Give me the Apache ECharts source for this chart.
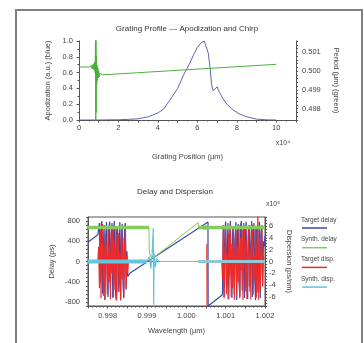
<!DOCTYPE html>
<html>
<head>
<meta charset="utf-8">
<script src="https://cdn.jsdelivr.net/npm/echarts@6/dist/echarts.min.js"></script>
<style>html,body{margin:0;padding:0;background:#fff}#c{width:364px;height:343px}</style>
</head>
<body>
<div id="c"></div>
<script>
// ---------- Top chart: grating profile (x in units of 1e4 um) ----------
const apodX = [0, 1, 2, 2.5, 3, 3.5, 4, 4.3, 4.6, 5.0, 5.3, 5.6, 5.8, 6.0, 6.2, 6.35, 6.45, 6.55, 6.65, 6.72, 6.8, 6.9, 7.0, 7.1, 7.3, 7.5, 7.8, 8.1, 8.5, 9.0, 9.5, 10];
const apodY = [0, 0, 0.003, 0.008, 0.015, 0.04, 0.09, 0.14, 0.25, 0.4, 0.57, 0.71, 0.82, 0.92, 0.98, 1.0, 0.98, 0.85, 0.65, 0.45, 0.37, 0.39, 0.42, 0.36, 0.27, 0.2, 0.13, 0.08, 0.04, 0.012, 0.002, 0];
const periodX = [0, 0.3, 0.5, 0.55, 0.58, 0.61, 0.64, 0.67, 0.7, 0.72, 0.74, 0.76, 0.78, 0.8, 0.82, 0.84, 0.85, 0.86, 0.87, 0.88, 0.9, 0.92, 0.94, 0.96, 0.98, 1.0, 1.03, 1.06, 1.1, 1.2, 10];
const periodY = [0.50022, 0.50022, 0.50021, 0.50025, 0.50018, 0.50028, 0.50015, 0.50032, 0.50012, 0.50036, 0.50008, 0.50040, 0.50004, 0.50048, 0.49990, 0.50200, 0.49700, 0.50200, 0.49780, 0.50080, 0.49930, 0.50030, 0.49950, 0.50015, 0.49965, 0.50000, 0.49970, 0.49988, 0.49978, 0.49980, 0.50036];

// ---------- Bottom chart: delay (ps) and dispersion (x1e5 ps/nm) vs wavelength (um) ----------
const noiseXL = [0.99777, 0.99779, 0.99781, 0.99783, 0.99785, 0.99787, 0.99789, 0.99791, 0.99793, 0.99795, 0.99797, 0.99799, 0.99801, 0.99803, 0.99805, 0.99807, 0.99809, 0.99811, 0.99813, 0.99815, 0.99817, 0.99819, 0.99821, 0.99823, 0.99825, 0.99827, 0.99829, 0.99831, 0.99833, 0.99835, 0.99837, 0.99839, 0.99841, 0.99843, 0.99845, 0.99847, 0.99849, 0.99851];
const noiseXR = [1.00092, 1.00094, 1.00096, 1.00098, 1.00100, 1.00102, 1.00104, 1.00106, 1.00108, 1.00110, 1.00112, 1.00114, 1.00116, 1.00118, 1.00120, 1.00122, 1.00124, 1.00126, 1.00128, 1.00130, 1.00132, 1.00134, 1.00136, 1.00138, 1.00140, 1.00142, 1.00144, 1.00146, 1.00148, 1.00150, 1.00152, 1.00154, 1.00156, 1.00158, 1.00160, 1.00162, 1.00164, 1.00166, 1.00168, 1.00170, 1.00172, 1.00174, 1.00176, 1.00178, 1.00180, 1.00182, 1.00184, 1.00186, 1.00188, 1.00190, 1.00192, 1.00194, 1.00196];

const targetDelayNoiseL = [540, 760, -420, 690, 800, -640, 300, 720, -760, 480, 780, -200, -700, 650, 790, -520, 420, 760, -720, 560, 800, -380, -750, 700, 620, -600, 350, 780, -770, 500, 740, -450, -720, 680, 760, -560, 200, -300];
const targetDelayNoiseR = [-600, 720, -700, 650, 790, -520, 300, 760, -740, 500, 800, -300, -720, 680, 560, -650, 420, 780, -760, 600, 740, -420, -700, 720, 800, -580, 250, 760, -720, 540, 790, -480, -740, 660, 720, -600, 380, 800, -700, 500, 760, -350, -760, 690, 620, -620, 300, 780, -720, 560, 720, -500, 400];
const targetDispNoiseL = [2.5, -4.5, 5.5, -6.2, 1.5, 6.3, -5.8, 3, -6.5, 4.5, 1, -5.5, 6, -3.5, 2, -6.4, 5, -2, 6.1, -6, 3.5, -4.8, 5.8, -6.6, 2, 4.8, -5.2, 1.5, -6.3, 5.5, -3, 4, -6.1, 2.5, 5.2, -4.5, 1, -2];
const targetDispNoiseR = [-3, 5.5, -6.2, 2, 6, -5.5, 1.5, -6.4, 4.8, -2.5, 6.2, -6, 3, -4.5, 5.6, -6.5, 1, 5, -5.8, 2.5, -3.5, 6.1, -6.2, 4, -1.5, 5.4, -6.5, 2, 6, -5, 3.5, -6.3, 1.5, 5.8, -4.2, 2.2, -6.4, 4.6, 6.2, -5.6, 1, -3, 5.5, -6.1, 3, 8.5, -6.5, 4, -5, 2, 5.5, -4, 1];

const targetDelayStart = [[0.9975, 380], [0.99775, 530]];
const targetDelayMid = [[0.99853, -300], [0.99857, -227], [1.00055, 781], [1.000555, -880], [1.00091, -663]];
const targetDelayEnd = [[1.00198, 300], [1.002, 500]];
const targetDispStart = [[0.9975, 0], [0.99775, 0]];
const targetDispMid = [[0.99853, 0], [1.00052, 0], [1.000522, 3], [1.000526, -8.5], [1.00053, 0], [1.0009, 0]];
const targetDispEnd = [[1.00198, 0], [1.002, 0]];

const synthDelayFlatL = [[0.9975, 672], [0.99905, 672]];
const synthDelayRamp = [[0.99905, 672], [0.99906, 150], [0.99912, 70], [0.99915, 110], [0.99918, 60], [0.99921, 100], [1.00030, 770], [1.00031, 672], [1.00050, 712], [1.00050, 632], [1.00031, 672]];
const synthDelayFlatR = [[1.00031, 672], [1.002, 672]];

const synthDispBandL = [[0.9975, 0], [0.99900, 0]];
const synthDispSpike = [[0.99900, 0], [0.99906, 0.8], [0.99910, -1.2], [0.99913, 1.5], [0.99916, 5.6], [0.99917, -7.6], [0.99918, 1.4], [0.99921, -0.9], [0.99925, 0.5], [0.99930, 0], [1.00030, 0]];
const synthDispBandR = [[1.00030, 0], [1.002, 0]];

const legendNames = ['Target delay', 'Synth. delay', 'Target disp.', 'Synth. disp.'];
const legendColors = ['#3c4aa8', '#86c95c', '#ee2b2b', '#62c6dc'];

// ---------- build ----------
const zip = (xs, ys) => xs.map((x, i) => [x, ys[i]]);
const FONT = '"Liberation Sans", Arial, Helvetica, sans-serif';
const TXT = '#444';
const AX = '#555';

function axisBase(extra) {
  return Object.assign({
    type: 'value',
    splitLine: { show: false },
    axisLine: { show: true, onZero: false, lineStyle: { color: AX, width: 1 } },
    axisTick: { show: true, length: 2.5, lineStyle: { color: AX } },
    axisLabel: { fontSize: 7.5, color: TXT, fontFamily: FONT },
    nameTextStyle: { fontSize: 7.5, color: TXT, fontFamily: FONT },
    nameLocation: 'middle'
  }, extra);
}

const fmt3 = v => { const k = Math.round(v * 10000); return k % 10 === 0 ? (k / 10000).toFixed(3) : ''; };

const option = {
  animation: false,
  backgroundColor: '#fff',
  title: [
    { text: 'Grating Profile --- Apodization and Chirp', left: 187, top: 25, textAlign: 'center', padding: 0,
      textStyle: { fontSize: 8, fontWeight: 'normal', color: '#333', fontFamily: FONT } },
    { text: 'Delay and Dispersion', left: 175, top: 188, textAlign: 'center', padding: 0,
      textStyle: { fontSize: 8, fontWeight: 'normal', color: '#333', fontFamily: FONT } }
  ],
  grid: [
    { left: 79, top: 41, width: 217, height: 79, containLabel: false, outerBoundsMode: 'none' },
    { left: 88, top: 217, width: 177, height: 89, containLabel: false, outerBoundsMode: 'none',
      show: true, borderColor: AX, borderWidth: 1, backgroundColor: 'transparent' }
  ],
  xAxis: [
    axisBase({ gridIndex: 0, min: 0, max: 11, interval: 1,
      name: 'Grating Position (µm)', nameGap: 33,
      minorTick: { show: true, splitNumber: 2, length: 1.5, lineStyle: { color: AX } },
      axisLabel: { fontSize: 7.5, color: TXT, fontFamily: FONT, margin: 4,
        formatter: v => (Math.round(v) % 2 === 0 && v <= 10) ? String(Math.round(v)) : '' } }),
    axisBase({ gridIndex: 1, min: 0.9975, max: 1.002, interval: 0.0005,
      name: 'Wavelength (µm)', nameGap: 21,
      minorTick: { show: true, splitNumber: 5, length: 1.5, lineStyle: { color: AX } },
      axisLabel: { fontSize: 7.5, color: TXT, fontFamily: FONT, margin: 6, formatter: fmt3 } })
  ],
  yAxis: [
    axisBase({ gridIndex: 0, min: 0, max: 1, interval: 0.2, position: 'left',
      name: 'Apodization (a.u.) (blue)', nameGap: 24,
      minorTick: { show: true, splitNumber: 2, length: 1.5, lineStyle: { color: AX } },
      axisLabel: { fontSize: 7.5, color: TXT, fontFamily: FONT, margin: 6, formatter: v => v.toFixed(1) } }),
    axisBase({ gridIndex: 0, min: 0.4974, max: 0.5016, interval: 0.0002, position: 'right',
      name: 'Period (µm) (green)', nameGap: 32, nameRotate: -90,
      axisTick: { show: true, length: 2, lineStyle: { color: AX } },
      axisLabel: { fontSize: 7.5, color: TXT, fontFamily: FONT, margin: 6, formatter: fmt3 } }),
    axisBase({ gridIndex: 1, min: -880, max: 880, interval: 80, position: 'left',
      name: 'Delay (ps)', nameGap: 32,
      axisTick: { show: true, length: 2, lineStyle: { color: AX } },
      axisLabel: { fontSize: 7.5, color: TXT, fontFamily: FONT, margin: 8,
        formatter: v => { const r = Math.round(v); return r % 400 === 0 ? String(r) : ''; } } }),
    axisBase({ gridIndex: 1, min: -7.5, max: 7.5, interval: 0.5, position: 'right',
      name: 'Dispersion (ps/nm)', nameGap: 20, nameRotate: -90,
      axisTick: { show: true, length: 2, lineStyle: { color: AX } },
      axisLabel: { fontSize: 7.5, color: TXT, fontFamily: FONT, margin: 4,
        formatter: v => { const r = Math.round(v * 2); return r % 4 === 0 ? String(r / 2) : ''; } } })
  ],
  series: [
    { type: 'line', name: 'Apodization', xAxisIndex: 0, yAxisIndex: 0, data: zip(apodX, apodY),
      showSymbol: false, lineStyle: { color: '#4b55a8', width: 0.9 }, itemStyle: { color: '#4b55a8' } },
    { type: 'line', name: 'Period', xAxisIndex: 0, yAxisIndex: 1, data: zip(periodX, periodY),
      showSymbol: false, lineStyle: { color: '#4caf3c', width: 1 }, itemStyle: { color: '#4caf3c' } },

    { type: 'line', name: legendNames[0], xAxisIndex: 1, yAxisIndex: 2, showSymbol: false,
      data: [].concat(targetDelayStart, zip(noiseXL, targetDelayNoiseL), targetDelayMid, zip(noiseXR, targetDelayNoiseR), targetDelayEnd),
      lineStyle: { color: legendColors[0], width: 1.2 }, itemStyle: { color: legendColors[0] } },
    { type: 'line', name: legendNames[2], xAxisIndex: 1, yAxisIndex: 3, showSymbol: false,
      data: [].concat(targetDispStart, zip(noiseXL, targetDispNoiseL), targetDispMid, zip(noiseXR, targetDispNoiseR), targetDispEnd),
      lineStyle: { color: legendColors[2], width: 1.1 }, itemStyle: { color: legendColors[2] } },
    { type: 'line', name: legendNames[1], xAxisIndex: 1, yAxisIndex: 2, showSymbol: false, data: synthDelayFlatL,
      lineStyle: { color: legendColors[1], width: 3.5 }, itemStyle: { color: legendColors[1] } },
    { type: 'line', name: legendNames[1], xAxisIndex: 1, yAxisIndex: 2, showSymbol: false, data: synthDelayRamp,
      lineStyle: { color: legendColors[1], width: 1 }, itemStyle: { color: legendColors[1] } },
    { type: 'line', name: legendNames[1], xAxisIndex: 1, yAxisIndex: 2, showSymbol: false, data: synthDelayFlatR,
      lineStyle: { color: legendColors[1], width: 3.5 }, itemStyle: { color: legendColors[1] } },
    { type: 'line', name: legendNames[3], xAxisIndex: 1, yAxisIndex: 3, showSymbol: false, data: synthDispBandL,
      lineStyle: { color: legendColors[3], width: 4 }, itemStyle: { color: legendColors[3] } },
    { type: 'line', name: legendNames[3], xAxisIndex: 1, yAxisIndex: 3, showSymbol: false, data: synthDispSpike,
      lineStyle: { color: legendColors[3], width: 1.2 }, itemStyle: { color: legendColors[3] } },
    { type: 'line', name: legendNames[3], xAxisIndex: 1, yAxisIndex: 3, showSymbol: false, data: synthDispBandR,
      lineStyle: { color: '#8fc9d6', width: 3 }, itemStyle: { color: legendColors[3] } }
  ],
  graphic: [
    { type: 'rect', shape: { x: 16, y: 10, width: 346, height: 345 }, style: { fill: 'none', stroke: '#808080', lineWidth: 2 }, silent: true },
    { type: 'text', x: 283, y: 143, style: { text: 'x10⁴', fontSize: 7, fill: TXT, fontFamily: FONT, align: 'center', verticalAlign: 'middle' } },
    { type: 'text', x: 273, y: 204, style: { text: 'x10⁵', fontSize: 7, fill: TXT, fontFamily: FONT, align: 'center', verticalAlign: 'middle' } }
  ].concat(legendNames.flatMap((n, i) => [
    { type: 'text', x: 301, y: 220 + i * 19.7, style: { text: n, fontSize: 6.5, fill: TXT, fontFamily: FONT, align: 'left', verticalAlign: 'middle' } },
    { type: 'line', shape: { x1: 302, y1: 228 + i * 19.7, x2: 327, y2: 228 + i * 19.7 }, style: { stroke: legendColors[i], lineWidth: 1.5 } }
  ]))
};

const chart = echarts.init(document.getElementById('c'), null, { renderer: 'canvas' });
chart.setOption(option);
</script>
</body>
</html>
